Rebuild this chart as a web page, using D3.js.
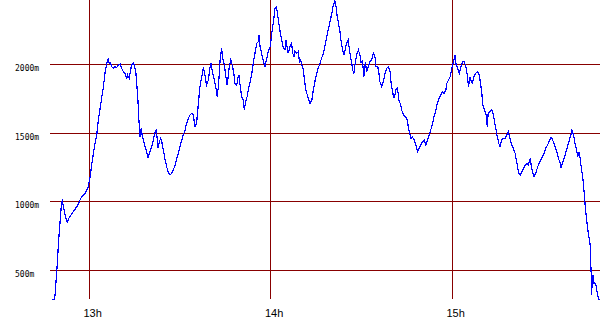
<!DOCTYPE html>
<html>
<head>
<meta charset="utf-8">
<script src="https://cdn.jsdelivr.net/npm/d3@7"></script>
<style>
  body { margin: 0; background: #fff; }
  svg { display: block; }
</style>
</head>
<body>
<svg id="chart" width="600" height="330"></svg>
<script>
// minutes after 12:00
var minutes = [47.5,48.3,48.6,48.8,49.2,49.5,49.7,50.0,50.5,50.8,
  51.0,51.3,51.7,52.1,52.7,53.0,53.5,54.6,55.8,56.6,
  57.4,58.5,59.1,59.6,59.9,60.2,60.7,61.3,61.8,62.4,
  62.9,63.5,64.0,64.6,65.1,65.7,66.2,66.5,67.0,67.3,
  67.9,68.4,69.0,69.5,70.1,70.6,71.2,71.7,72.3,72.6,
  73.1,73.4,73.9,74.5,74.8,75.3,75.6,76.0,76.4,76.7,
  77.1,77.4,77.8,78.4,78.9,79.3,79.8,80.2,80.7,81.1,
  81.7,82.1,82.4,82.7,83.1,83.5,83.9,84.4,85.0,85.5,
  86.0,86.6,87.2,87.7,88.3,88.8,89.4,89.9,90.5,91.0,
  91.6,92.1,92.7,93.2,93.8,94.3,94.9,95.4,95.8,96.2,
  96.5,97.1,97.6,98.0,98.4,98.7,99.3,99.8,100.2,100.6,
  101.3,101.8,102.2,102.6,102.9,103.2,103.7,104.0,104.6,105.0,
  105.5,105.9,106.2,106.7,107.2,107.7,108.1,108.7,109.0,109.4,
  109.7,110.3,110.8,111.2,111.6,112.1,112.5,113.1,113.6,114.2,
  114.7,115.3,115.8,116.0,116.4,116.9,117.5,118.0,118.6,119.1,
  119.7,120.0,120.4,120.9,121.3,121.8,122.2,122.6,123.0,123.5,
  124.1,124.6,124.9,125.4,125.7,126.3,126.8,127.2,127.6,127.9,
  128.5,129.0,129.4,129.8,130.2,130.7,131.0,131.5,132.0,132.5,
  132.9,133.5,134.0,134.6,135.1,135.6,136.2,136.7,137.3,137.8,
  138.4,138.9,139.5,140.1,140.6,141.1,141.5,141.9,142.4,142.8,
  143.2,143.7,144.1,144.6,145.0,145.5,146.1,146.7,147.0,147.4,
  147.9,148.3,148.9,149.4,149.8,150.2,150.7,151.2,151.6,152.2,
  152.7,153.3,153.8,154.4,154.7,155.3,155.7,156.0,156.6,157.1,
  157.7,158.3,158.8,159.4,159.7,160.1,160.4,160.8,161.2,161.8,
  162.3,162.9,163.2,163.8,164.3,164.9,165.4,165.8,166.3,166.7,
  167.3,167.9,168.4,169.0,169.5,170.1,170.6,171.2,171.7,172.3,
  172.8,173.4,173.9,174.5,175.0,175.6,176.1,176.6,177.2,177.8,
  178.1,178.7,179.2,179.8,180.3,180.9,181.2,181.6,182.0,182.3,
  182.8,183.3,183.9,184.4,184.9,185.3,185.8,186.2,186.6,187.2,
  187.7,188.3,188.7,189.2,189.7,190.0,190.6,191.1,191.5,191.8,
  192.4,193.0,193.5,193.9,194.4,194.8,195.3,195.7,196.3,196.8,
  197.4,197.9,198.5,199.0,199.6,200.1,200.7,201.3,201.6,202.0,
  202.4,202.9,203.5,204.0,204.6,205.1,205.7,206.0,206.4,207.0,
  207.5,208.0,208.6,209.2,209.7,210.3,210.8,211.4,211.9,212.5,
  212.9,213.3,213.9,214.5,215.0,215.6,215.9,216.3,216.9,217.4,
  218.0,218.5,219.1,219.5,220.0,220.5,221.1,221.4,221.9,222.2,
  222.6,223.1,223.5,223.8,224.1,224.6,225.0,225.5,225.7,225.9,
  226.0,226.2,226.5,226.8,227.3,227.7,228.2,228.5];

// altitude in metres
var altitude = [285,285,318,378,500,597,682,779,915,997,
  1004,973,924,888,840,869,888,924,961,997,
  1034,1058,1082,1106,1143,1179,1264,1350,1422,1483,
  1592,1677,1750,1835,1932,2005,2041,2005,2009,1980,
  1969,1980,1976,1993,2000,1969,1944,1932,1896,1920,
  1896,1932,1993,2005,1993,1944,1859,1738,1568,1471,
  1532,1483,1447,1398,1361,1313,1350,1374,1410,1447,
  1507,1519,1447,1386,1434,1459,1434,1374,1301,1252,
  1216,1192,1204,1228,1264,1313,1350,1398,1447,1483,
  1519,1568,1605,1629,1641,1629,1543,1568,1665,1762,
  1835,1907,1969,1944,1883,1847,1883,1969,2005,1944,
  1883,1823,1762,1835,1932,2041,2114,2041,1993,1920,
  1847,1920,1980,2029,1993,1932,1859,1847,1896,1920,
  1859,1762,1738,1665,1725,1762,1811,1871,1920,2017,
  2078,2151,2162,2211,2126,2078,2017,1980,2041,2090,
  2126,2175,2248,2320,2406,2417,2357,2296,2235,2175,
  2114,2102,2175,2114,2078,2126,2151,2078,2053,2090,
  2078,2090,2017,2029,1993,1956,1896,1811,1774,1738,
  1714,1738,1811,1883,1932,1969,2005,2041,2078,2126,
  2199,2248,2308,2369,2430,2459,2417,2344,2284,2235,
  2162,2102,2066,2114,2151,2175,2078,2005,1956,1932,
  2017,2066,2102,2066,2005,2029,1907,2017,1944,1980,
  2017,2029,2078,2051,1980,1980,1932,1871,1835,1871,
  1932,1969,1980,1944,1859,1811,1774,1750,1811,1823,
  1738,1701,1665,1629,1616,1605,1543,1495,1459,1471,
  1447,1410,1361,1386,1410,1434,1447,1410,1447,1483,
  1519,1568,1616,1665,1714,1750,1774,1798,1786,1811,
  1859,1883,1907,1969,2017,2066,1993,1980,1944,1932,
  1980,2017,2017,1980,1920,1835,1907,1871,1859,1920,
  1932,1944,1932,1871,1787,1701,1665,1629,1543,1641,
  1653,1665,1629,1580,1519,1471,1422,1398,1447,1459,
  1459,1483,1507,1459,1410,1386,1350,1277,1240,1204,
  1192,1216,1240,1264,1277,1264,1313,1264,1216,1179,
  1204,1240,1277,1301,1325,1350,1386,1410,1434,1466,
  1459,1434,1398,1361,1313,1277,1240,1277,1313,1350,
  1398,1434,1483,1519,1483,1422,1361,1325,1361,1313,
  1240,1168,1070,986,913,815,755,682,549,451,
  318,427,463,403,403,354,294,282];

var altTicks = [500, 1000, 1500, 2000];
var hourTicks = [13, 14, 15];

var base = new Date(2024, 0, 1, 12, 0, 0);
function atMinute(m) { return new Date(base.getTime() + m * 60000); }

var data = d3.zip(minutes, altitude).map(function(d) {
  return { time: atMinute(d[0]), alt: d[1] };
});

var plotLeft = 50, plotRight = 600, plotTop = 0, plotBottom = 300;

var x = d3.scaleTime()
  .domain([atMinute(46.94), atMinute(228.76)])
  .range([plotLeft, plotRight]);

var y = d3.scaleLinear()
  .domain([281.5, 2466])
  .range([plotBottom, plotTop]);

var svg = d3.select('#chart');
var gridColor = '#880000';

// horizontal grid + altitude labels
svg.selectAll('line.hgrid')
  .data(altTicks)
  .enter()
  .append('line')
  .attr('class', 'hgrid')
  .attr('x1', plotLeft)
  .attr('x2', plotRight)
  .attr('y1', function(d) { return Math.round(y(d)) + 0.5; })
  .attr('y2', function(d) { return Math.round(y(d)) + 0.5; })
  .style('stroke', gridColor)
  .style('stroke-width', 1);

svg.selectAll('text.ylab')
  .data(altTicks)
  .enter()
  .append('text')
  .attr('class', 'ylab')
  .attr('x', 15)
  .attr('y', function(d) { return Math.round(y(d)) + 7; })
  .style('font-family', 'DejaVu Sans Mono, monospace')
  .style('font-size', '8px')
  .style('fill', '#000')
  .text(function(d) { return d + 'm'; });

// vertical grid + hour labels
var hours = hourTicks.map(function(h) { return atMinute((h - 12) * 60); });

svg.selectAll('line.vgrid')
  .data(hours)
  .enter()
  .append('line')
  .attr('class', 'vgrid')
  .attr('x1', function(d) { return Math.round(x(d)) - 0.5; })
  .attr('x2', function(d) { return Math.round(x(d)) - 0.5; })
  .attr('y1', plotTop)
  .attr('y2', plotBottom - 1)
  .style('stroke', gridColor)
  .style('stroke-width', 1);

svg.selectAll('text.xlab')
  .data(hours)
  .enter()
  .append('text')
  .attr('class', 'xlab')
  .attr('x', function(d) { return x(d) - 6; })
  .attr('y', 317)
  .style('font-family', 'Liberation Sans, Arial, sans-serif')
  .style('font-size', '11px')
  .style('fill', '#000')
  .text(d3.timeFormat('%Hh'));

// altitude profile
var line = d3.line()
  .x(function(d) { return x(d.time); })
  .y(function(d) { return y(d.alt); });

svg.append('path')
  .datum(data)
  .attr('d', line)
  .style('fill', 'none')
  .style('stroke', '#0000ff')
  .style('stroke-width', 1.2)
  .style('shape-rendering', 'crispEdges');
</script>
</body>
</html>
